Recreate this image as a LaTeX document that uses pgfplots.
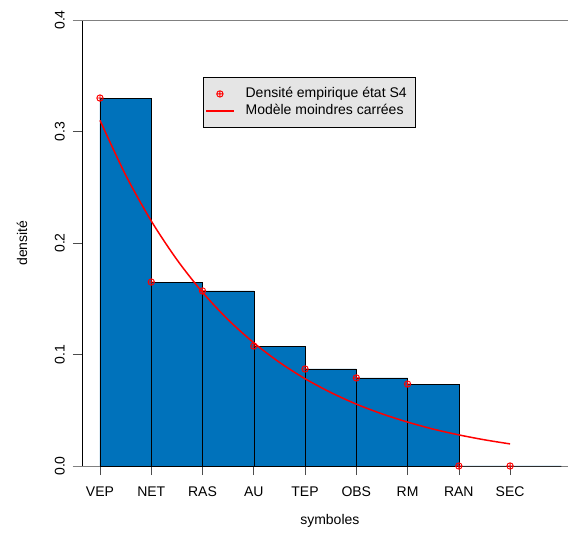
\documentclass[border=0pt]{standalone}
\usepackage{pgfplots}
\pgfplotsset{compat=1.18}
\usepackage{fontspec}
\setmainfont{Liberation Sans}
\definecolor{barblue}{RGB}{0,114,187}
\definecolor{legbg}{gray}{0.9}
\pgfplotsset{
 legmark/.style={legend image code/.code={\draw[legbg, line width=0.1pt] (0pt,-3pt) rectangle (27pt,3pt);\draw[red, line width=0.9pt, mark=oplus, mark size=3.2pt] plot[only marks] coordinates {(13.5pt,0pt)};}},
 legline/.style={legend image code/.code={\draw[legbg, line width=0.1pt] (0pt,-3pt) rectangle (27pt,3pt);\fill[red] (0pt,-0.8pt) rectangle (27pt,0.8pt);}},
}
\begin{document}
\begin{tikzpicture}
\begin{axis}[
 name=ax,
 scale only axis, width=486pt, height=446pt,
 xmin=-0.351, xmax=9.13, ymin=0, ymax=0.4,
 clip=false,
 axis y line*=left, axis x line*=bottom,
 x axis line style={draw=none},
 y axis line style={black, -},
 xtick={0,...,8},
 xticklabels={VEP,NET,RAS,AU,TEP,OBS,RM,RAN,SEC},
 ytick={0,0.1,0.2,0.3,0.4},
 yticklabels={0.0,0.1,0.2,0.3,0.4},
 tick align=outside, major tick length=9pt,
 tick style={gray!60!black, line width=0.6pt},
 font=\fontsize{14}{16}\selectfont,
 yticklabel style={rotate=90, anchor=south, inner sep=0pt},
 xticklabel style={anchor=north, inner sep=0pt},
 xticklabel shift=12pt,
 yticklabel shift=8pt,
 xlabel={symboles}, ylabel={densité},
 xlabel style={at={(axis description cs:0.51,0)}, anchor=center, yshift=-55pt},
 ylabel style={at={(axis description cs:0,0.5)}, anchor=center, yshift=60pt},
 legend style={at={(0.249,0.872)}, anchor=north west, fill=legbg, draw=black,
   font=\fontsize{14}{16}\selectfont, inner xsep=3pt, inner ysep=8.3pt, row sep=0pt,
   nodes={text height=10pt, text depth=3pt, inner ysep=1.85pt, inner xsep=5pt},
   /tikz/every odd column/.append style={column sep=7pt}},
 legend cell align=left,
]
\addlegendimage{legmark}
\addlegendentry{Densité empirique état S4}
\addlegendimage{legline}
\addlegendentry{Modèle moindres carrées}

\addplot[gray, forget plot] coordinates {(-0.527,0.4) (9.13,0.4)};
\addplot[gray, forget plot] coordinates {(-0.527,0) (9.13,0)};
\addplot[ybar interval, fill=barblue, draw=black, forget plot] coordinates {
 (0,0.330) (1,0.165) (2,0.157) (3,0.1076) (4,0.087) (5,0.079) (6,0.0735) (7,0) (8,0) (9,0)};
\addplot[red, line width=1.5pt, smooth, forget plot] coordinates {
 (0,0.3100) (0.5,0.2610) (1,0.2198) (1.5,0.1851) (2,0.1558) (2.5,0.1312) (3,0.1105)
 (3.5,0.0930) (4,0.0783) (4.5,0.0660) (5,0.0555) (5.5,0.0468) (6,0.0394) (6.5,0.0331)
 (7,0.0279) (7.5,0.0235) (8,0.0198)};
\addplot[red, only marks, mark=oplus, mark size=3.2pt, line width=0.9pt, forget plot] coordinates {
 (0,0.330) (1,0.165) (2,0.157) (3,0.1076) (4,0.087) (5,0.079) (6,0.0735) (7,0) (8,0)};
\end{axis}
\pgfresetboundingbox
\useasboundingbox ([shift={(-82pt,-72pt)}]ax.south west) rectangle ([shift={(0pt,20pt)}]ax.north east);
\end{tikzpicture}
\end{document}
